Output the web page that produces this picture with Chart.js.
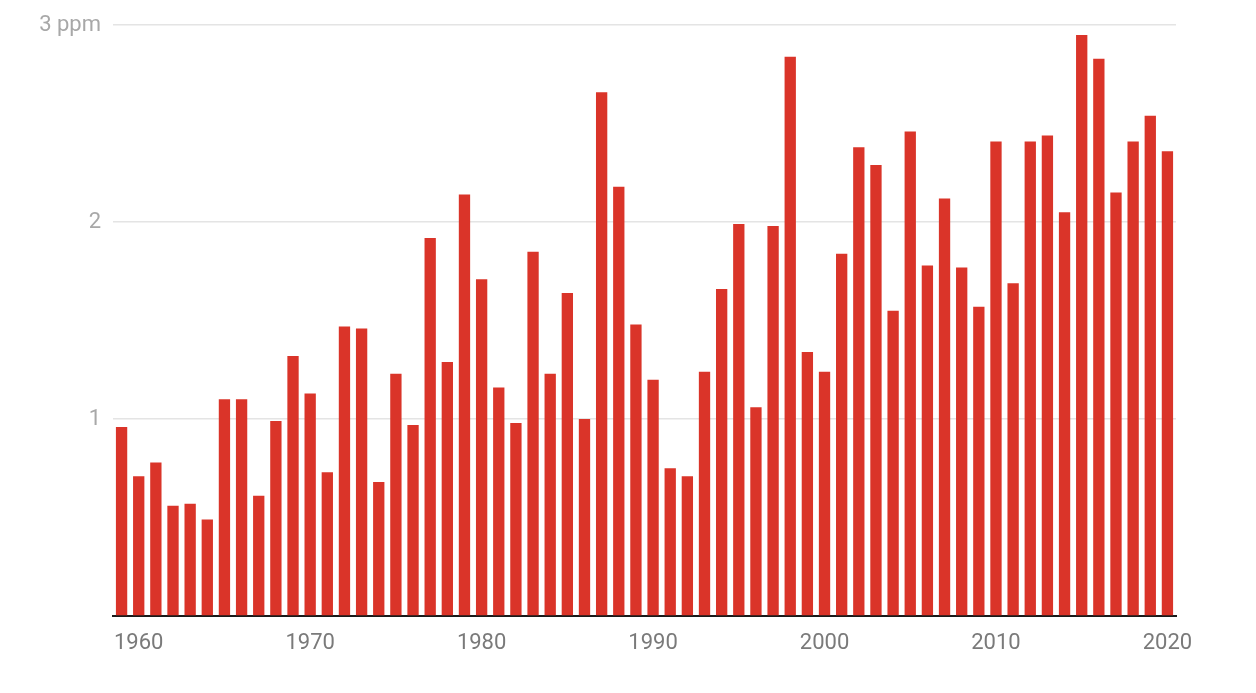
<!DOCTYPE html>
<html>
<head>
<meta charset="utf-8">
<script src="https://cdn.jsdelivr.net/npm/chart.js@4"></script>
<style>
  html, body { margin: 0; padding: 0; background: #ffffff; }
  #wrap { position: relative; width: 1256px; height: 693px; }
</style>
</head>
<body>
<div id="wrap"><canvas id="c" width="1256" height="693"></canvas></div>
<script>
const years = [];
for (let y = 1959; y <= 2020; y++) years.push(String(y));

const growthPpm = [
  0.96, 0.71, 0.78, 0.56, 0.57, 0.49, 1.10, 1.10, 0.61, 0.99,
  1.32, 1.13, 0.73, 1.47, 1.46, 0.68, 1.23, 0.97, 1.92, 1.29,
  2.14, 1.71, 1.16, 0.98, 1.85, 1.23, 1.64, 1.00, 2.66, 2.18,
  1.48, 1.20, 0.75, 0.71, 1.24, 1.66, 1.99, 1.06, 1.98, 2.84,
  1.34, 1.24, 1.84, 2.38, 2.29, 1.55, 2.46, 1.78, 2.12, 1.77,
  1.57, 2.41, 1.69, 2.41, 2.44, 2.05, 2.95, 2.83, 2.15, 2.41,
  2.54, 2.36
];

const yTickLabels = { 1: '1', 2: '2', 3: '3 ppm' };

const PAD_LEFT = 10;
const CHART_LEFT = 113;
const CHART_BOTTOM = 616;
const PAD_BOTTOM = 0;

new Chart(document.getElementById('c'), {
  type: 'bar',
  data: {
    labels: years,
    datasets: [{
      data: growthPpm,
      backgroundColor: 'rgb(218,52,41)',
      borderWidth: 0,
      barPercentage: 0.66,
      categoryPercentage: 1.0
    }]
  },
  options: {
    responsive: false,
    animation: false,
    devicePixelRatio: 1,
    layout: { padding: { left: PAD_LEFT, right: 80, top: 24, bottom: PAD_BOTTOM } },
    plugins: { legend: { display: false }, tooltip: { enabled: false } },
    scales: {
      x: {
        grid: { display: false, drawTicks: false },
        border: { display: true, color: '#1a1a1a', width: 2 },
        ticks: {
          autoSkip: false,
          maxRotation: 0,
          minRotation: 0,
          padding: 14,
          color: '#7a7a7a',
          font: { family: 'Roboto', size: 22 },
          callback: function(v, i) {
            const lab = this.getLabelForValue(v);
            return (Number(lab) % 10 === 0) ? lab : '';
          }
        },
        afterFit: function(scale) { scale.height = 693 - CHART_BOTTOM - PAD_BOTTOM; }
      },
      y: {
        min: 0,
        max: 3,
        grid: { color: '#e4e4e4', lineWidth: 1.5, drawTicks: false },
        border: { display: false },
        ticks: {
          stepSize: 1,
          padding: 12,
          color: '#a8a8a8',
          font: { family: 'Roboto', size: 22 },
          callback: function(v) { return yTickLabels[v] || ''; }
        },
        afterFit: function(scale) { scale.width = CHART_LEFT - PAD_LEFT; }
      }
    }
  }
});
</script>
</body>
</html>
